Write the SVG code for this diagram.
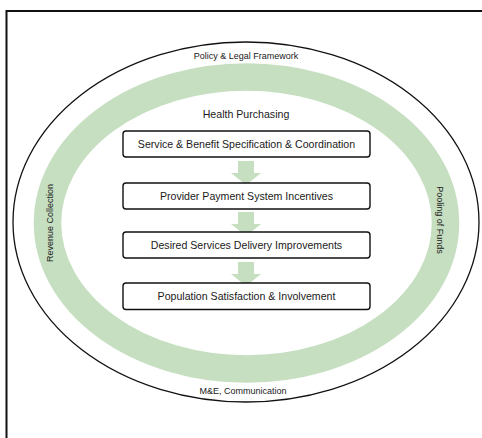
<svg xmlns="http://www.w3.org/2000/svg" width="482" height="438" viewBox="0 0 482 438">
<style>
text{font-family:"Liberation Sans",Arial,sans-serif;fill:#1a1a1a;text-anchor:middle}
.small{font-size:9px}
.mid{font-size:10.6px}
.box{fill:#fff;stroke:#111;stroke-width:1.4}
.arrow{fill:#c6dfc1}
</style>
<rect width="482" height="438" fill="#fff"/>
<path d="M6.5,438 V11 H482" fill="none" stroke="#111" stroke-width="2"/>
<g id="policy-frame">
<ellipse cx="246" cy="222" rx="233" ry="180" fill="none" stroke="#111" stroke-width="1.3"/>
<text class="small" x="246" y="59">Policy &amp; Legal Framework</text>
<text class="small" x="243" y="393.5">M&amp;E, Communication</text>
</g>
<g id="financing-ring">
<ellipse cx="246.5" cy="223" rx="199" ry="146" fill="none" stroke="#c6dfc1" stroke-width="27.5"/>
<text class="small" transform="translate(53,223) rotate(-90)">Revenue Collection</text>
<text class="small" transform="translate(437,220) rotate(90)">Pooling of Funds</text>
</g>
<g id="health-purchasing">
<text class="mid" x="246" y="117.5">Health Purchasing</text>
</g>
<g id="connectors">
<path class="arrow" d="M238,161 H254 V173 H261 L246,185 L231,173 H238 Z"/>
<path class="arrow" d="M238,212 H254 V224 H261 L246,236 L231,224 H238 Z"/>
<path class="arrow" d="M238,262 H254 V274 H261 L246,286 L231,274 H238 Z"/>
</g>
<g id="node-service">
<rect class="box" x="123" y="131" width="247" height="26" rx="3"/>
<text class="mid" x="246.5" y="147.8">Service &amp; Benefit Specification &amp; Coordination</text>
</g>
<g id="node-provider">
<rect class="box" x="123" y="183" width="247" height="26" rx="3"/>
<text class="mid" x="246.5" y="199.8">Provider Payment System Incentives</text>
</g>
<g id="node-delivery">
<rect class="box" x="123" y="232" width="247" height="26" rx="3"/>
<text class="mid" x="246.5" y="248.8">Desired Services Delivery Improvements</text>
</g>
<g id="node-population">
<rect class="box" x="123" y="283" width="247" height="26.5" rx="3"/>
<text class="mid" x="246.5" y="300">Population Satisfaction &amp; Involvement</text>
</g>
</svg>
